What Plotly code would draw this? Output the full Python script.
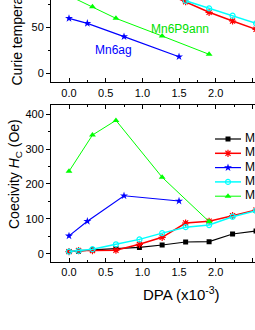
import plotly.graph_objects as go

# ---------------- data ----------------
dpa_main = [0, 0.13, 0.32, 0.64, 0.96, 1.27, 1.59, 1.91, 2.23, 2.55]
hc_black = [6, 7, 11, 15, 18, 25, 33.5, 34.5, 56.5, 65]
hc_red = [6, 9, 9, 10, 27, 47, 88, 93, 109, 125]
hc_cyan = [6, 8, 13, 27, 41, 59, 76, 82, 106, 123]

dpa_p9 = [0, 0.32, 0.64, 1.27, 1.91]
hc_green = [236, 340, 382, 219, 92]
tc_green = [84, 72, 59.4, 40.2, 20.3]

dpa_ag = [0, 0.25, 0.75, 1.5]
hc_blue = [51, 93, 166, 151]
tc_blue = [59.4, 54, 39.5, 17.7]

dpa_tc_red = [1.27, 1.59, 1.91, 2.23, 2.55]
tc_red = [88.5, 77.5, 66, 56.5, 47.5]
dpa_tc_cyan = [1.59, 1.91, 2.23, 2.55]
tc_cyan = [78.5, 70.3, 62.3, 54]

names = ["Mn5ag", "Mn5P9ann", "Mn6ag", "Mn5ann", "Mn6P9ann"]
colors = ["#000000", "#FF0000", "#0000FF", "#00FFFF", "#00FF00"]
symbols = ["square", "asterisk-open", "star", "circle-open", "triangle-up"]
msizes = [5, 6, 6, 5, 6]
lwidths = [1.2, 1.5, 1.2, 1.5, 1.0]

# ---------------- layout helpers (pixels -> paper) ----------------
WIDTH, HEIGHT = 255, 330
L, R, T, B = 51, 0, 0, 68
PW, PH = WIDTH - L - R, HEIGHT - T - B


def pxx(px):
    return (px - L) / PW


def pxy(py):
    return (PH - (py - T)) / PH


FONT = "Liberation Sans, Arial, sans-serif"

fig = go.Figure()


def mk(i):
    m = dict(symbol=symbols[i], size=msizes[i], color=colors[i])
    if "open" in symbols[i]:
        m["line"] = dict(color=colors[i], width=1.2)
    else:
        m["line"] = dict(width=0)
    return m


# bottom panel (coercivity)
series_b = [
    (dpa_main, hc_black, 0),
    (dpa_main, hc_red, 1),
    (dpa_ag, hc_blue, 2),
    (dpa_main, hc_cyan, 3),
    (dpa_p9, hc_green, 4),
]
for xs, ys, i in series_b:
    fig.add_trace(go.Scatter(x=xs, y=ys, mode="lines+markers", name=names[i],
                             line=dict(color=colors[i], width=lwidths[i]),
                             marker=mk(i), xaxis="x", yaxis="y", showlegend=False))

# top panel (Curie temperature)
series_t = [
    (dpa_tc_red, tc_red, 1),
    (dpa_tc_cyan, tc_cyan, 3),
    (dpa_ag, tc_blue, 2),
    (dpa_p9, tc_green, 4),
]
for xs, ys, i in series_t:
    fig.add_trace(go.Scatter(x=xs, y=ys, mode="lines+markers", name=names[i],
                             line=dict(color=colors[i], width=lwidths[i]),
                             marker=mk(i), xaxis="x2", yaxis="y2", showlegend=False))

# manual legend on a pixel-mapped overlay axis
leg_x0, leg_x1, leg_y0, leg_dy = 215, 241, 139, 14.3
for k in range(5):
    yy = leg_y0 + k * leg_dy
    fig.add_trace(go.Scatter(x=[leg_x0, leg_x1], y=[yy, yy], mode="lines",
                             line=dict(color=colors[k], width=lwidths[k]),
                             xaxis="x3", yaxis="y3", showlegend=False, hoverinfo="skip"))
    fig.add_trace(go.Scatter(x=[(leg_x0 + leg_x1) / 2], y=[yy], mode="markers",
                             marker=mk(k), xaxis="x3", yaxis="y3",
                             showlegend=False, hoverinfo="skip"))
    fig.add_trace(go.Scatter(x=[245], y=[yy], mode="text", text=[names[k]],
                             textposition="middle right",
                             textfont=dict(family=FONT, size=12, color="black"),
                             xaxis="x3", yaxis="y3", showlegend=False, hoverinfo="skip",
                             cliponaxis=False))

annotations = []
# axis titles
annotations.append(dict(text="Curie temperature (K)", x=pxx(16), y=pxy(88), xref="paper", yref="paper",
                        xanchor="center", yanchor="bottom", textangle=-90, showarrow=False,
                        font=dict(family=FONT, size=14, color="black")))
annotations.append(dict(text="Coecivity <i>H</i><sub>C</sub> (Oe)", x=pxx(15), y=pxy(174),
                        xref="paper", yref="paper", xanchor="center", yanchor="middle",
                        textangle=-90, showarrow=False,
                        font=dict(family=FONT, size=14, color="black")))
annotations.append(dict(text="DPA (x10<sup>-3</sup>)", x=pxx(181), y=pxy(293), xref="paper", yref="paper",
                        xanchor="center", yanchor="middle", showarrow=False,
                        font=dict(family=FONT, size=15, color="black")))
# in-plot labels
annotations.append(dict(text="Mn6P9ann", x=1.513, y=47.8, xref="x2", yref="y2", showarrow=False,
                        font=dict(family=FONT, size=12, color="#00E000")))
annotations.append(dict(text="Mn6ag", x=0.6, y=25, xref="x2", yref="y2", showarrow=False,
                        font=dict(family=FONT, size=12, color="#0000FF")))

xr = [(L - 69) / 73.35, (WIDTH - 69) / 73.35]
top_dom = [pxy(82.3), 1.0]
bot_dom = [0.0, pxy(104.5)]

xcommon = dict(range=xr, dtick=0.5, tick0=0, tickformat=".1f", ticks="inside", ticklen=4,
               tickcolor="black", showline=True, linecolor="black", linewidth=1,
               showgrid=False, zeroline=False, automargin=False,
               tickfont=dict(family=FONT, size=11, color="black"),
               minor=dict(dtick=0.25, ticks="inside", ticklen=2, tickcolor="black"))
ycommon = dict(ticks="outside", ticklen=4, tickcolor="black", showline=True, linecolor="black",
               linewidth=1, showgrid=False, zeroline=False, automargin=False,
               tickfont=dict(family=FONT, size=11, color="black"))

fig.update_layout(
    template="none",
    width=WIDTH, height=HEIGHT,
    margin=dict(l=L, r=R, t=T, b=B, pad=0, autoexpand=False),
    paper_bgcolor="white", plot_bgcolor="rgba(0,0,0,0)",
    showlegend=False,
    xaxis=dict(**xcommon, domain=[0, 1], anchor="y", mirror="ticks"),
    yaxis=dict(**ycommon, domain=bot_dom, anchor="x",
               range=[(253.7 - 262) / 0.349, (253.7 - 104.5) / 0.349], dtick=100,
               minor=dict(dtick=50, ticks="outside", ticklen=2, tickcolor="black")),
    xaxis2=dict(**xcommon, domain=[0, 1], anchor="y2"),
    yaxis2=dict(**ycommon, domain=top_dom, anchor="x2",
                range=[(73 - 82.3) / 0.92, 73 / 0.92], dtick=50,
                minor=dict(dtick=25, ticks="outside", ticklen=2, tickcolor="black")),
    xaxis3=dict(domain=[0, 1], anchor="y3", range=[L, WIDTH], visible=False, automargin=False),
    yaxis3=dict(domain=[0, 1], anchor="x3", range=[HEIGHT - B, T], visible=False, automargin=False),
    annotations=annotations,
)

fig.write_html("out.html", config={"displayModeBar": False},
               post_script="document.body.style.margin='0px';document.body.style.overflow='hidden';")
